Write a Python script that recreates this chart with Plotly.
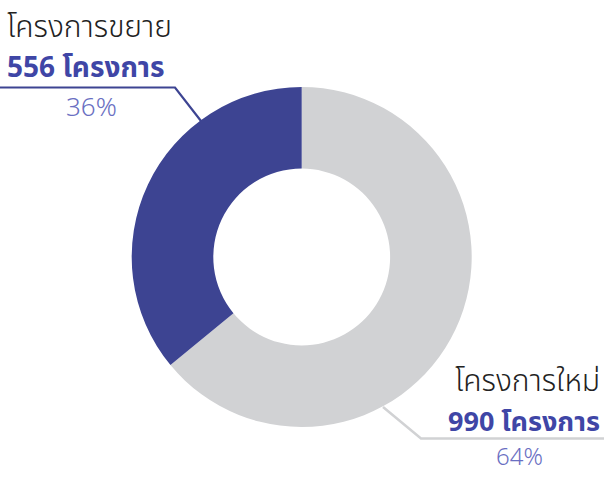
import plotly.graph_objects as go

labels = ["โครงการใหม่", "โครงการขยาย"]
values = [990, 556]
counts_text = ["990 โครงการ", "556 โครงการ"]
pct_text = ["64%", "36%"]
colors = ["#d1d2d4", "#3d4492"]

W, H = 604, 477

def px(x):
    return x / W

def py(y):
    return 1 - y / H

fig = go.Figure(go.Pie(
    labels=labels, values=values, hole=0.52, sort=False, direction="clockwise",
    rotation=0, marker=dict(colors=colors, line=dict(width=0)),
    textinfo="none", hoverinfo="label+value+percent", showlegend=False,
    domain=dict(x=[px(131.7), px(471.7)], y=[py(427), py(87)]),
))

FONT = "Noto Sans Thai, Noto Sans, sans-serif"
ann = []
# left (expansion)
ann.append(dict(x=px(6), y=py(28), xanchor="left", yanchor="middle", text=labels[1],
                font=dict(family=FONT, size=30, color="#222222", weight=300)))
ann.append(dict(x=px(6), y=py(69), xanchor="left", yanchor="middle", text="<b>" + counts_text[1] + "</b>",
                font=dict(family=FONT, size=28, color="#3f46a6")))
ann.append(dict(x=px(91), y=py(108), xanchor="center", yanchor="middle", text=pct_text[1],
                font=dict(family=FONT, size=26, color="#6a6fc2", weight=300)))
# right (new)
ann.append(dict(x=px(601), y=py(382), xanchor="right", yanchor="middle", text=labels[0],
                font=dict(family=FONT, size=30, color="#222222", weight=300)))
ann.append(dict(x=px(601), y=py(422), xanchor="right", yanchor="middle", text="<b>" + counts_text[0] + "</b>",
                font=dict(family=FONT, size=27, color="#3f46a6")))
ann.append(dict(x=px(519), y=0, xanchor="center", yanchor="bottom", text=pct_text[0],
                font=dict(family=FONT, size=24, color="#6a6fc2", weight=300)))
for a in ann:
    a.update(xref="paper", yref="paper", showarrow=False, borderpad=0)

shapes = [
    dict(type="path", path=f"M 0,{py(87.5)} L {px(175)},{py(87.5)} L {px(201)},{py(121)}",
         xref="paper", yref="paper", line=dict(color="#3d4492", width=2.2)),
    dict(type="path", path=f"M {px(383)},{py(407)} L {px(421)},{py(438.5)} L 1,{py(438.5)}",
         xref="paper", yref="paper", line=dict(color="#d1d2d4", width=2.5)),
]

fig.update_layout(width=W, height=H, margin=dict(l=0, r=0, t=0, b=0),
                  paper_bgcolor="white", plot_bgcolor="white",
                  annotations=ann, shapes=shapes)
fig.write_html("out.html", config={"displayModeBar": False},
               post_script="document.body.style.margin='0px';document.body.style.overflow='hidden';")
